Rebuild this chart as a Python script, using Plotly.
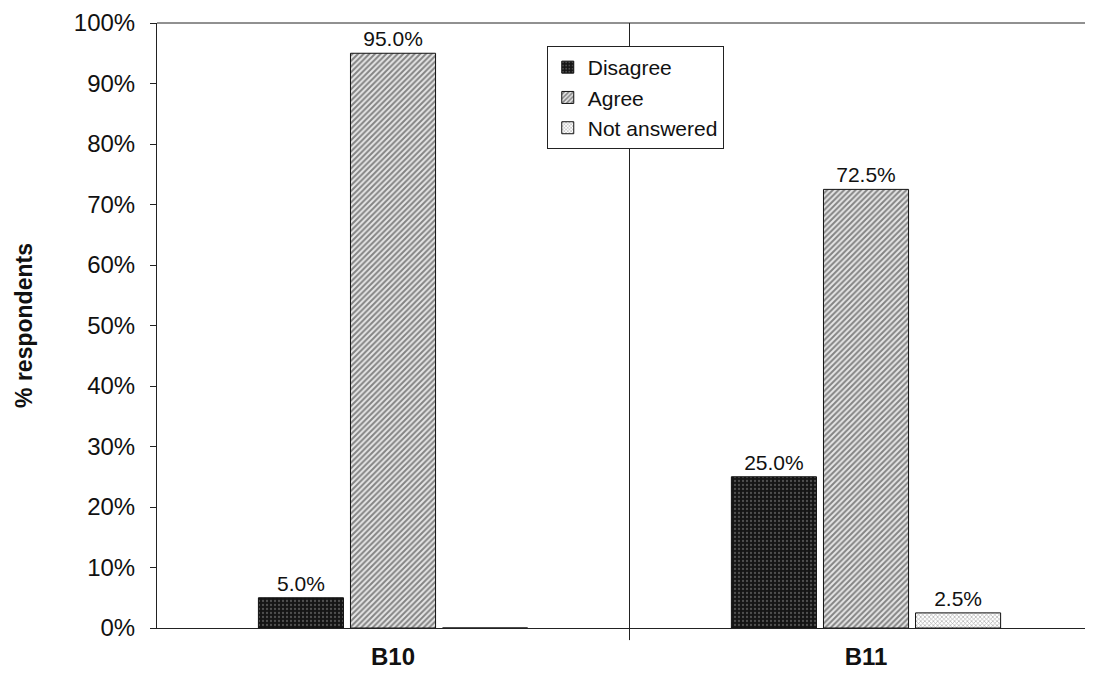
import plotly.graph_objects as go

categories = ["B10", "B11"]
disagree = [5.0, 25.0]
agree = [95.0, 72.5]
not_answered = [0.0, 2.5]
y_ticks = [0, 10, 20, 30, 40, 50, 60, 70, 80, 90, 100]
y_tick_labels = [f"{v}%" for v in y_ticks]

FONT = "Liberation Sans, Arial, sans-serif"

def labels(vals):
    return [f"{v:.1f}%" if v else "" for v in vals]

series = [
    ("Disagree", disagree, dict(shape=".", bgcolor="#151515", fgcolor="#8a8a8a", size=4, solidity=0.25)),
    ("Agree", agree, dict(shape="/", bgcolor="#e6e6e6", fgcolor="#222222", size=4, solidity=0.5)),
    ("Not answered", not_answered, dict(shape="x", bgcolor="#ffffff", fgcolor="#444444", size=3, solidity=0.35)),
]

fig = go.Figure()
for name, vals, pat in series:
    fig.add_trace(go.Bar(
        name=name, x=categories, y=vals,
        text=labels(vals), textposition="outside", cliponaxis=False,
        textfont=dict(family=FONT, size=21, color="#111"),
        marker=dict(pattern=pat, line=dict(color="#111", width=1)),
    ))

fig.update_layout(
    width=1078, height=666,
    margin=dict(l=149, r=1, t=15, b=46),
    paper_bgcolor="white", plot_bgcolor="white",
    barmode="group", bargap=0.416, bargroupgap=0.076,
    font=dict(family=FONT, size=21, color="#111"),
    showlegend=True,
    legend=dict(
        x=0.42, y=0.962, xanchor="left", yanchor="top",
        bgcolor="white", bordercolor="#222", borderwidth=1,
        font=dict(family=FONT, size=21, color="#111"),
        itemwidth=30,
    ),
    xaxis=dict(
        range=[-0.499, 1.463], showgrid=False, ticks="",
        showline=True, linecolor="#222", linewidth=1,
        tickfont=dict(family=FONT, size=24, color="#111"),
        ticklabelstandoff=7, automargin=False,
        tickvals=[0, 1], ticktext=["<b>" + c + "</b>" for c in categories],
    ),
    yaxis=dict(
        range=[0, 100], tickmode="array", tickvals=y_ticks, ticktext=y_tick_labels,
        showgrid=False, ticks="outside", ticklen=6, tickcolor="#222",
        showline=True, linecolor="#222", linewidth=1, mirror=False,
        tickfont=dict(family=FONT, size=24, color="#111"),
        ticklabelstandoff=10,
        title=dict(text="<b>% respondents</b>", font=dict(family=FONT, size=23, color="#111"), standoff=34),
    ),
    shapes=[
        dict(type="line", xref="paper", yref="paper", x0=0, x1=1, y0=1, y1=1,
             line=dict(color="#222", width=1)),
        dict(type="line", xref="x", yref="paper", x0=0.5, x1=0.5, y0=-0.02, y1=1,
             line=dict(color="#222", width=1)),
    ],
)

fig.write_html("out.html")
